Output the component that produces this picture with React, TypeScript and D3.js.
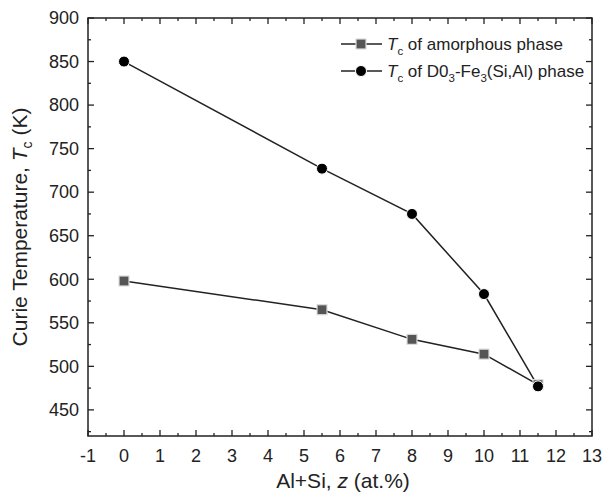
import React, { useEffect, useRef } from 'react';
import * as d3 from 'd3';

// data
const zValues = [0, 5.5, 8, 10, 11.5];
const amorphousTc = [598, 565, 531, 514, 479];
const d03Tc = [850, 727, 675, 583, 477];
const xTicks = d3.range(-1, 14, 1);
const yTicks = d3.range(450, 901, 50);

const App = () => {
  const ref = useRef<SVGSVGElement>(null);

  useEffect(() => {
    const svg = d3.select(ref.current);
    svg.selectAll('*').remove();

    const width = 614;
    const height = 500;
    const margin = { top: 18, right: 22, bottom: 64, left: 88 };
    const font = '"Liberation Sans", Arial, sans-serif';
    const ink = '#222';

    const x = d3.scaleLinear().domain([-1, 13]).range([margin.left, width - margin.right]);
    const y = d3.scaleLinear().domain([420, 900]).range([height - margin.bottom, margin.top]);

    const g = svg.append('g');

    // ticks inside the frame, mirrored on all sides
    const tick = (sel, x1, y1, x2, y2) =>
      sel.append('line').attr('x1', x1).attr('y1', y1).attr('x2', x2).attr('y2', y2)
        .attr('stroke', ink).attr('stroke-width', 1.3);

    const y0 = y.range()[0], y1 = y.range()[1];
    const x0 = x.range()[0], x1 = x.range()[1];

    d3.range(-1, 13.01, 0.5).forEach(v => {
      const len = Number.isInteger(v) ? 6 : 3;
      tick(g, x(v), y0, x(v), y0 - len);
      tick(g, x(v), y1, x(v), y1 + len);
    });
    d3.range(425, 900.01, 25).forEach(v => {
      const len = v % 50 === 0 ? 6 : 3;
      tick(g, x0, y(v), x0 + len, y(v));
      tick(g, x1, y(v), x1 - len, y(v));
    });

    g.append('rect')
      .attr('x', x0).attr('y', y1)
      .attr('width', x1 - x0).attr('height', y0 - y1)
      .attr('fill', 'none').attr('stroke', ink).attr('stroke-width', 1.5);

    // tick labels
    g.selectAll('.xl').data(xTicks).enter().append('text')
      .attr('x', d => x(d)).attr('y', y0 + 26)
      .attr('text-anchor', 'middle')
      .style('font', `18px ${font}`).attr('fill', ink)
      .text(d => d);

    g.selectAll('.yl').data(yTicks).enter().append('text')
      .attr('x', x0 - 9).attr('y', d => y(d)).attr('dy', '0.35em')
      .attr('text-anchor', 'end')
      .style('font', `18px ${font}`).attr('fill', ink)
      .text(d => d);

    // axis titles
    const xt = g.append('text')
      .attr('x', (x0 + x1) / 2 + 3).attr('y', 488)
      .attr('text-anchor', 'middle')
      .style('font', `21px ${font}`).attr('fill', ink);
    xt.append('tspan').text('Al+Si, ');
    xt.append('tspan').attr('font-style', 'italic').text('z');
    xt.append('tspan').text(' (at.%)');

    const yt = g.append('text')
      .attr('transform', `translate(27, ${(y0 + y1) / 2}) rotate(-90)`)
      .attr('text-anchor', 'middle')
      .style('font', `21px ${font}`).attr('fill', ink);
    yt.append('tspan').text('Curie Temperature, ');
    yt.append('tspan').attr('font-style', 'italic').text('T');
    yt.append('tspan').attr('font-size', 14).attr('dy', 5).text('c');
    yt.append('tspan').attr('dy', -5).text(' (K)');

    const line = d3.line<number>().x((d, i) => x(zValues[i])).y(d => y(d));

    // series lines
    [amorphousTc, d03Tc].forEach(s => {
      g.append('path').datum(s).attr('d', line)
        .attr('fill', 'none').attr('stroke', ink).attr('stroke-width', 1.5);
    });

    // amorphous squares
    g.selectAll('.sq').data(amorphousTc).enter().append('rect')
      .attr('x', (d, i) => x(zValues[i]) - 5).attr('y', d => y(d) - 5)
      .attr('width', 10).attr('height', 10)
      .attr('fill', '#555').attr('stroke', '#ddd').attr('stroke-width', 1.2);

    // D03 circles
    g.selectAll('.ci').data(d03Tc).enter().append('circle')
      .attr('cx', (d, i) => x(zValues[i])).attr('cy', d => y(d))
      .attr('r', 5.5)
      .attr('fill', '#000').attr('stroke', '#fff').attr('stroke-width', 1);

    // legend
    const lg = g.append('g');
    const rows = [
      { y: 44, marker: 'square' },
      { y: 71, marker: 'circle' },
    ];
    rows.forEach(r => {
      tick(lg, 341, r.y, 382, r.y).attr('stroke-width', 1.5);
      if (r.marker === 'square') {
        lg.append('rect').attr('x', 356).attr('y', r.y - 5).attr('width', 10).attr('height', 10)
          .attr('fill', '#555').attr('stroke', '#ddd').attr('stroke-width', 1.2);
      } else {
        lg.append('circle').attr('cx', 361).attr('cy', r.y).attr('r', 5.5)
          .attr('fill', '#000').attr('stroke', '#fff').attr('stroke-width', 1);
      }
      const t = lg.append('text').attr('x', 387).attr('y', r.y).attr('dy', '0.35em')
        .style('font', `17px ${font}`).attr('fill', ink);
      t.append('tspan').attr('font-style', 'italic').text('T');
      t.append('tspan').attr('font-size', 11.5).attr('dy', 5).text('c');
      if (r.marker === 'square') {
        t.append('tspan').attr('dy', -5).text(' of amorphous phase');
      } else {
        t.append('tspan').attr('dy', -5).text(' of D0');
        t.append('tspan').attr('font-size', 11.5).attr('dy', 5).text('3');
        t.append('tspan').attr('dy', -5).text('-Fe');
        t.append('tspan').attr('font-size', 11.5).attr('dy', 5).text('3');
        t.append('tspan').attr('dy', -5).text('(Si,Al) phase');
      }
    });
  }, []);

  return (
    <svg ref={ref} width={614} height={500}
      style={{ position: 'absolute', left: 0, top: 0, background: '#fff' }} />
  );
};

export default App;
